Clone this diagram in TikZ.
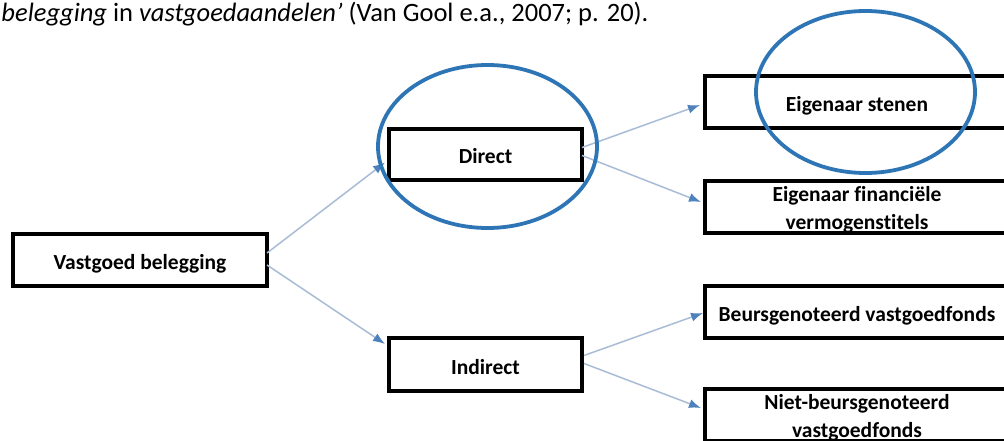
\documentclass[tikz,border=0pt]{standalone}
\usepackage{fontspec}
\setmainfont[Ligatures=NoCommon]{Carlito}
\usetikzlibrary{arrows.meta,calc}
\definecolor{ellblue}{HTML}{2E75B6}
\definecolor{arrline}{HTML}{A9BCD6}
\definecolor{arrtip}{HTML}{4F81BD}
\begin{document}
\begin{tikzpicture}[x=1pt,y=-1pt,
  box/.style={draw=black,line width=4pt,fill=white,inner sep=0pt,outer sep=0pt,
    font=\fontsize{21.5}{28}\selectfont\bfseries,align=center,
    text height=23pt,text depth=4pt},
  twoline/.style={text height=48pt,text depth=4pt},
  lbox/.style={box,minimum width=254pt,minimum height=52pt},
  mbox/.style={box,minimum width=193pt,minimum height=52pt},
  rbox/.style={box,minimum width=304pt,minimum height=52pt},
  conn/.style={draw=arrline,line width=1.5pt,-{Latex[length=12pt,width=9pt,color=arrtip]}},
  circ/.style={draw=ellblue,line width=3.8pt}]
\useasboundingbox (0,0) rectangle (1004,441);
\clip (0,0) rectangle (1004,441);
\fill[white] (0,0) rectangle (1004,441);
\node[anchor=base east,font=\fontsize{26.5}{30}\selectfont] (cap) at (652,22)
  {\textit{belegging} in \textit{vastgoedaandelen’} (Van Gool e.a., 2007; p. 20).};
\node[lbox] (vb) at (140,260) {Vastgoed belegging};
\node[mbox,minimum height=51pt] (direct) at (485.5,154.5) {Direct};
\node[mbox,minimum height=53pt] (indirect) at (485.5,364.5) {Indirect};
\node[rbox] (eig) at (857,102) {Eigenaar stenen};
\node[rbox,twoline] (fin) at (857,207) {Eigenaar financiële\\vermogenstitels};
\node[rbox] (beurs) at (857,312) {Beursgenoteerd vastgoedfonds};
\node[rbox,twoline] (niet) at (857,415) {Niet-beursgenoteerd\\vastgoedfonds};
\draw[conn] ($(vb.east)+(0,-7)$) -- ($(direct.west)+(-4,8)$);
\draw[conn] ($(vb.east)+(0,5)$) -- ($(indirect.north west)+(-4,6)$);
\draw[conn] ($(direct.east)+(0,-7)$) -- ($(eig.west)+(-5,3)$);
\draw[conn] ($(direct.east)+(0,1)$) -- ($(fin.west)+(-4,-5)$);
\draw[conn] ($(indirect.east)+(2,-9)$) -- ($(beurs.west)+(-2,1)$);
\draw[conn] ($(indirect.east)+(2,-1)$) -- ($(niet.west)+(-4,-7)$);
\draw[circ] (487.5,146.5) ellipse [x radius=109.5, y radius=81.5];
\draw[circ] (865.5,92) ellipse [x radius=109.5, y radius=81];
\end{tikzpicture}
\end{document}
